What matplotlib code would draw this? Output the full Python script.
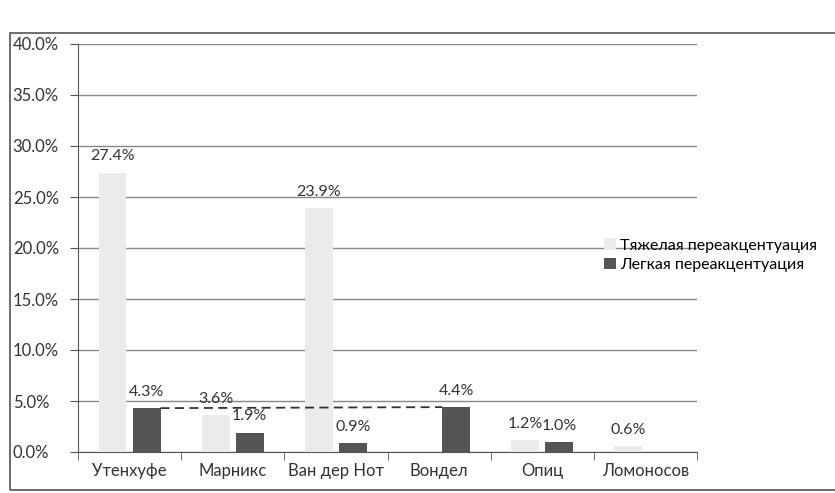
import matplotlib
matplotlib.use("Agg")
import matplotlib.pyplot as plt
import numpy as np
from matplotlib.patches import Rectangle

categories = ["Утенхуфе", "Марникс", "Ван дер Нот", "Вондел", "Опиц", "Ломоносов"]
heavy = [27.4, 3.6, 23.9, 0.0, 1.2, 0.6]
light = [4.3, 1.9, 0.9, 4.4, 1.0, 0.0]
heavy_labels = ["27.4%", "3.6%", "23.9%", "", "1.2%", "0.6%"]
light_labels = ["4.3%", "1.9%", "0.9%", "4.4%", "1.0%", ""]
series_names = ["Тяжелая переакцентуация", "Легкая переакцентуация"]
yticks = [0, 5, 10, 15, 20, 25, 30, 35, 40]

plt.rcParams['font.family'] = ['Lato', 'DejaVu Sans']

fig = plt.figure(figsize=(8.35, 4.93), dpi=100)
fig.patch.set_facecolor('white')
fig.patches.append(Rectangle((10/835, 3/493), 1.2, 1 - 36/493, transform=fig.transFigure,
                             fill=False, edgecolor='#555555', linewidth=1.2))

ax = fig.add_axes([78/835, 1 - 452/493, (697 - 78)/835, (452 - 44)/493])
x = np.arange(len(categories))
w = 0.27
c_heavy = '#ebebeb'
c_light = '#555555'
b1 = ax.bar(x - w/2 - 0.03, heavy, w, color=c_heavy, label=series_names[0], zorder=3)
b2 = ax.bar(x + w/2 + 0.03, light, w, color=c_light, label=series_names[1], zorder=3)

for xi, v, t in zip(x - w/2 - 0.03, heavy, heavy_labels):
    if t:
        ax.text(xi, v + 0.9, t, ha='center', va='bottom', fontsize=11.5, color='#333333', zorder=4)
for xi, v, t in zip(x + w/2 + 0.03, light, light_labels):
    if t:
        ax.text(xi, v + 0.9, t, ha='center', va='bottom', fontsize=11.5, color='#333333', zorder=4)

# dashed connector between Утенхуфе and Вондел light-accent bars
ax.plot([x[0] + w + 0.03, x[3] + 0.03], [light[0], light[3]], linestyle='--',
        color='#333333', linewidth=1.3, dashes=(5, 3), zorder=5)

ax.set_ylim(0, 40)
ax.set_xlim(-0.5, len(categories) - 0.5)
ax.set_yticks(yticks)
ax.set_yticklabels([f"{v:.1f}%" for v in yticks], fontsize=12, color='#333333')
for lbl in ax.get_yticklabels():
    lbl.set_horizontalalignment('left')
ax.tick_params(axis='y', pad=41, length=6, color='#555555')
ax.yaxis.grid(True, color='#888888', linewidth=1.0, zorder=0)
ax.set_xticks(x)
ax.set_xticklabels(categories, fontsize=12, color='#333333')
ax.set_xticks(np.arange(-0.5, len(categories), 1), minor=True)
ax.tick_params(axis='x', which='major', length=0, pad=8)
ax.tick_params(axis='x', which='minor', length=6, color='#555555')
for s in ['top', 'right']:
    ax.spines[s].set_visible(False)
ax.spines['left'].set_color('#555555')
ax.spines['bottom'].set_color('#555555')
ax.set_facecolor('none')

fig.legend(handles=[b1, b2], loc='upper left', bbox_to_anchor=(598/835, 1 - 232/493),
           frameon=False, fontsize=11.5, handlelength=0.7, handleheight=0.7,
           handletextpad=0.3, labelspacing=0.35, borderaxespad=0)

fig.savefig('out.png', dpi=100)
